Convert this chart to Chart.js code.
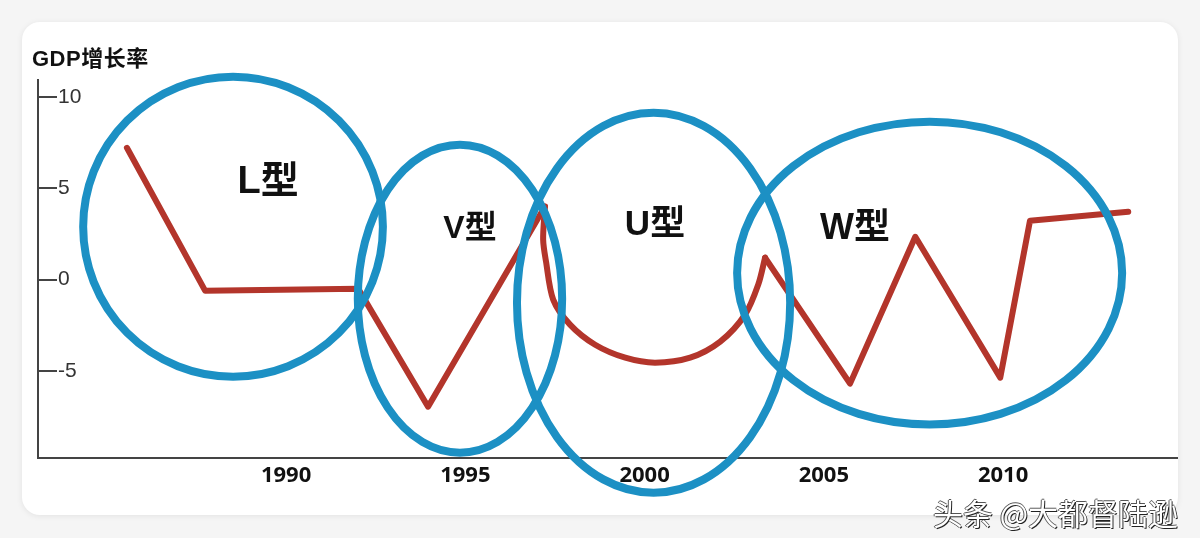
<!DOCTYPE html>
<html>
<head>
<meta charset="utf-8">
<script src="https://cdn.jsdelivr.net/npm/chart.js@4.4.1/dist/chart.umd.min.js"></script>
<style>
html, body { margin: 0; padding: 0; width: 1200px; height: 538px; overflow: hidden; background: #f5f5f5; }
.card { position: absolute; left: 22px; top: 22px; width: 1156px; height: 493px; background: #fff; border-radius: 18px; box-shadow: 0 1px 6px rgba(0,0,0,0.08); }
#wrap { position: absolute; left: 0; top: 0; width: 1200px; height: 538px; }
.ytitle { position: absolute; left: 32px; top: 40px; line-height: 1; font: bold 22px "Liberation Sans", "Noto Sans CJK SC", sans-serif; color: #111; letter-spacing: 0.5px; }
.mark { position: absolute; left: 933px; top: 490px; line-height: 1; font: 30px "Noto Sans CJK SC", sans-serif; color: #fff;
        text-shadow: 1px 1px 0 #222, -1px 0 0 #555, 0 -1px 0 #555; }
</style>
</head>
<body>
<div class="card"></div>
<div id="wrap"><canvas id="myChart" width="1200" height="538"></canvas></div>
<div class="ytitle">GDP增长率</div>
<div class="mark">头条 @大都督陆逊</div>
<script>
// L + V 段（折线）
const lvYears  = [1985.56, 1987.74, 1992.01, 1993.96, 1997.22];
const lvGrowth = [7.22, -0.60, -0.49, -6.95, 4.00];
// U 段（曲线）
const uYears  = [1997.22, 1997.17, 1997.25, 1997.45, 1997.92, 1998.62, 1999.46, 2000.29, 2001.27, 2002.11, 2002.80, 2003.17, 2003.36];
const uGrowth = [4.00, 2.19, 0.99, -1.09, -2.46, -3.56, -4.27, -4.54, -4.27, -3.39, -1.92, -0.27, 1.20];
// W 段（折线）
const wYears  = [2003.36, 2005.73, 2007.55, 2009.92, 2010.75, 2013.49];
const wGrowth = [1.20, -5.69, 2.35, -5.36, 3.23, 3.72];

const xTicks = [1990, 1995, 2000, 2005, 2010];
const yTicks = [10, 5, 0, -5];

const shapeLabels = ['L型', 'V型', 'U型', 'W型'];

// 圈的位置（数据坐标）
const shapes = [
    {cx: 1988.52, cy: 2.90,  rx: 4.18, ry: 8.21,  tx: 1989.50, ty: 5.31, size: 38},
    {cx: 1994.85, cy: -1.04, rx: 2.85, ry: 8.43,  tx: 1995.13, ty: 2.79, size: 32},
    {cx: 2000.25, cy: -1.26, rx: 3.81, ry: 10.40, tx: 2000.29, ty: 2.96, size: 35},
    {cx: 2007.95, cy: 0.36,  rx: 5.37, ry: 8.29,  tx: 2005.87, ty: 2.79, size: 36}
];

const RED = '#b3352b';
const BLUE = '#1c90c4';

function pts(xs, ys) {
    return xs.map(function (x, i) { return {x: x, y: ys[i]}; });
}

const circlesPlugin = {
    id: 'circles',
    afterDatasetsDraw(chart) {
        const ctx = chart.ctx;
        const sx = chart.scales.x, sy = chart.scales.y;
        ctx.save();
        ctx.strokeStyle = BLUE;
        ctx.lineWidth = 8;
        shapes.forEach(function (s) {
            const px = sx.getPixelForValue(s.cx), py = sy.getPixelForValue(s.cy);
            const rx = Math.abs(sx.getPixelForValue(s.cx + s.rx) - px);
            const ry = Math.abs(sy.getPixelForValue(s.cy + s.ry) - py);
            ctx.beginPath();
            ctx.ellipse(px, py, rx, ry, 0, 0, Math.PI * 2);
            ctx.stroke();
        });
        ctx.fillStyle = '#111';
        ctx.textAlign = 'center';
        ctx.textBaseline = 'middle';
        shapes.forEach(function (s, i) {
            ctx.font = 'bold ' + s.size + 'px "Liberation Sans", "Noto Sans CJK SC", sans-serif';
            ctx.fillText(shapeLabels[i], sx.getPixelForValue(s.tx), sy.getPixelForValue(s.ty));
        });
        ctx.restore();
    },
    afterDraw(chart) {
        // y 轴的小刻度线
        const ctx = chart.ctx;
        const sy = chart.scales.y;
        const left = chart.chartArea.left;
        ctx.save();
        ctx.strokeStyle = '#444';
        ctx.lineWidth = 2;
        sy.ticks.forEach(function (t) {
            const y = Math.round(sy.getPixelForValue(t.value));
            ctx.beginPath();
            ctx.moveTo(left, y);
            ctx.lineTo(left + 19, y);
            ctx.stroke();
        });
        ctx.restore();
    }
};

const lineStyle = {
    borderColor: RED,
    borderWidth: 6,
    borderCapStyle: 'round',
    borderJoinStyle: 'round',
    pointRadius: 0,
    fill: false
};

new Chart(document.getElementById('myChart'), {
    type: 'line',
    data: {
        datasets: [
            Object.assign({label: 'L+V', data: pts(lvYears, lvGrowth), tension: 0}, lineStyle),
            Object.assign({label: 'U', data: pts(uYears, uGrowth), tension: 0.3}, lineStyle),
            Object.assign({label: 'W', data: pts(wYears, wGrowth), tension: 0}, lineStyle)
        ]
    },
    options: {
        responsive: false,
        animation: false,
        layout: {padding: {left: 38, top: 80, right: 23, bottom: 0}},
        plugins: {
            legend: {display: false},
            tooltip: {enabled: false}
        },
        scales: {
            x: {
                type: 'linear',
                min: 1983.08,
                max: 2014.85,
                grid: {display: false, drawTicks: false},
                border: {display: true, color: '#444', width: 2},
                afterBuildTicks: function (scale) {
                    scale.ticks = xTicks.map(function (v) { return {value: v}; });
                },
                afterFit: function (scale) { scale.height = 80; },
                ticks: {
                    padding: 5,
                    color: '#111',
                    font: {family: '"Open Sans", "Liberation Sans", sans-serif', size: 22, weight: 'bold'},
                    callback: function (v) { return String(v); }
                }
            },
            y: {
                min: -9.76,
                max: 10.93,
                grid: {display: false, drawTicks: false},
                border: {display: true, color: '#444', width: 2},
                afterBuildTicks: function (scale) {
                    scale.ticks = yTicks.map(function (v) { return {value: v}; });
                },
                afterFit: function (scale) { scale.width = 0; },
                ticks: {
                    mirror: true,
                    padding: 20,
                    color: '#333',
                    font: {family: '"Liberation Sans", sans-serif', size: 21},
                    callback: function (v) { return String(v); }
                }
            }
        }
    },
    plugins: [circlesPlugin]
});
</script>
</body>
</html>
